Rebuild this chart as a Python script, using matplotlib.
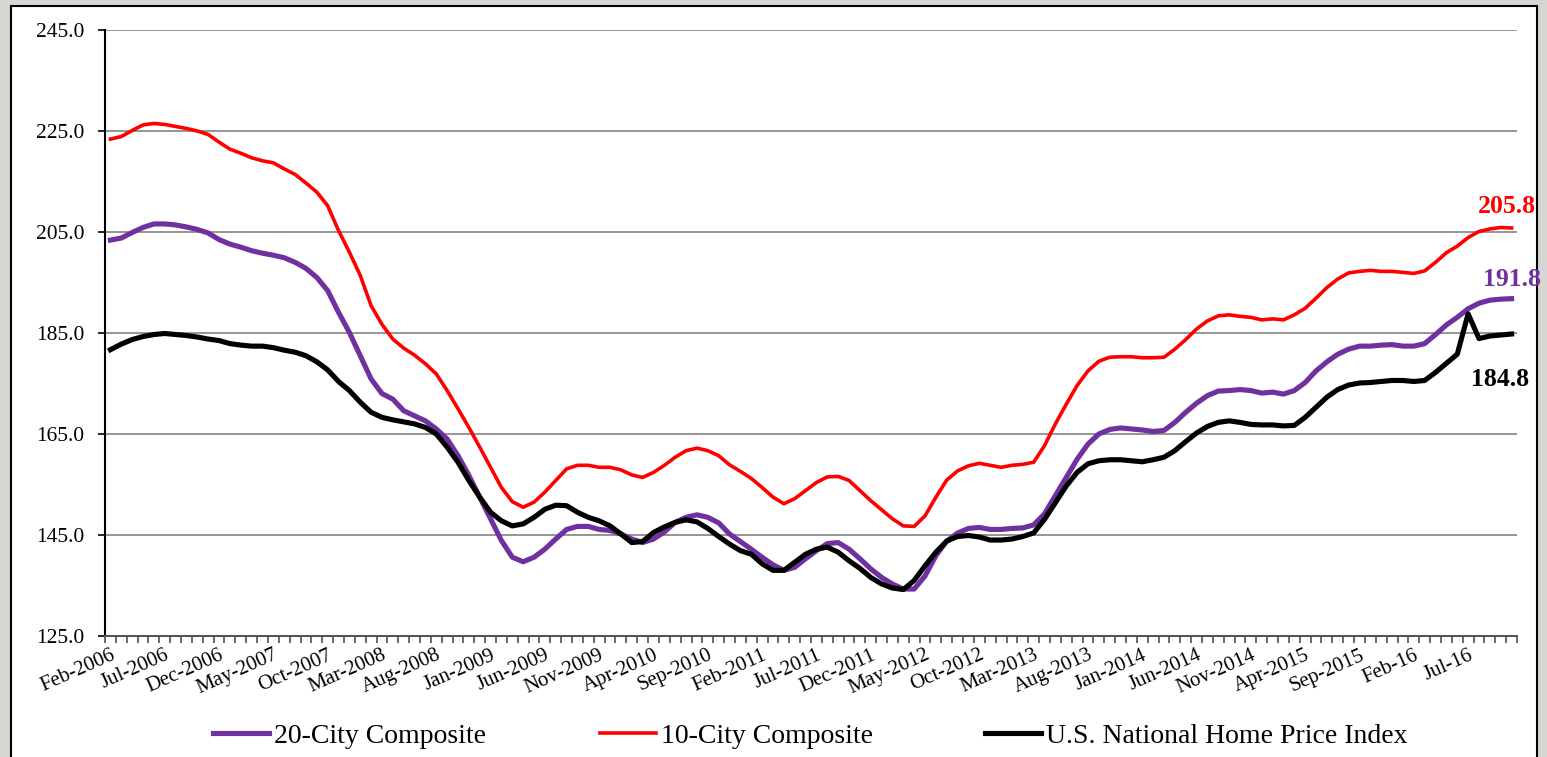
import matplotlib
matplotlib.use("Agg")
import matplotlib.pyplot as plt
from matplotlib.patches import Rectangle
from matplotlib.lines import Line2D
import numpy as np

# ---- data (Feb-2006 .. Nov-2016, monthly) ----
city20 = [203.4, 203.8, 204.9, 205.9, 206.6, 206.6, 206.4, 206.0, 205.5, 204.8,
          203.5, 202.6, 202.0, 201.3, 200.8, 200.4, 199.9, 199.0, 197.8, 196.0,
          193.4, 189.1, 185.1, 180.5, 175.9, 173.0, 171.9, 169.6, 168.6, 167.6,
          166.0, 164.0, 160.7, 156.8, 152.5, 148.2, 143.9, 140.6, 139.7, 140.6,
          142.2, 144.2, 146.1, 146.7, 146.7, 146.1, 145.9, 145.2, 144.2, 143.5,
          144.2, 145.6, 147.5, 148.5, 149.0, 148.5, 147.4, 145.2, 143.7, 142.2,
          140.6, 139.1, 138.0, 138.6, 140.3, 141.9, 143.3, 143.5, 142.2, 140.3,
          138.3, 136.6, 135.3, 134.3, 134.3, 136.9, 140.9, 143.8, 145.4, 146.3,
          146.5, 146.1, 146.1, 146.3, 146.4, 147.0, 149.2, 152.8, 156.4, 160.0,
          163.0, 165.0, 165.9, 166.2, 166.0, 165.8, 165.5, 165.7, 167.3, 169.3,
          171.1, 172.6, 173.5, 173.6, 173.8, 173.6, 173.1, 173.3, 172.9, 173.6,
          175.2, 177.5, 179.3, 180.8, 181.8, 182.4, 182.4, 182.6, 182.7, 182.4,
          182.4, 182.9, 184.7, 186.6, 188.1, 189.8, 190.9, 191.5, 191.7, 191.8]

city10 = [223.4, 223.9, 225.1, 226.2, 226.5, 226.3, 225.9, 225.5, 225.0, 224.3,
          222.8, 221.4, 220.6, 219.7, 219.1, 218.7, 217.5, 216.4, 214.7, 212.9,
          210.2, 205.3, 201.0, 196.4, 190.4, 186.7, 183.8, 182.0, 180.6, 178.9,
          176.9, 173.6, 170.0, 166.3, 162.4, 158.4, 154.4, 151.6, 150.5, 151.5,
          153.5, 155.8, 158.1, 158.8, 158.8, 158.4, 158.4, 157.9, 156.9, 156.4,
          157.4, 158.8, 160.4, 161.7, 162.2, 161.7, 160.7, 158.9, 157.6, 156.2,
          154.4, 152.5, 151.2, 152.2, 153.8, 155.4, 156.5, 156.6, 155.8, 153.8,
          151.8, 150.0, 148.2, 146.8, 146.7, 148.8, 152.5, 155.9, 157.7, 158.7,
          159.2, 158.8, 158.4, 158.8, 159.0, 159.4, 162.7, 167.0, 170.9, 174.6,
          177.5, 179.4, 180.2, 180.3, 180.3, 180.1, 180.1, 180.2, 181.8, 183.7,
          185.8, 187.4, 188.4, 188.6, 188.3, 188.1, 187.6, 187.8, 187.6, 188.6,
          189.9, 191.9, 194.0, 195.7, 196.9, 197.2, 197.4, 197.2, 197.2, 197.0,
          196.8, 197.3, 199.0, 200.9, 202.2, 203.9, 205.1, 205.6, 205.9, 205.8]

national = [181.7, 182.8, 183.7, 184.3, 184.7, 184.9, 184.7, 184.5, 184.2, 183.8,
            183.5, 182.9, 182.6, 182.4, 182.4, 182.1, 181.6, 181.2, 180.5, 179.3,
            177.7, 175.4, 173.6, 171.3, 169.3, 168.3, 167.8, 167.4, 167.0, 166.3,
            165.0, 162.4, 159.4, 155.8, 152.5, 149.5, 147.8, 146.8, 147.2, 148.5,
            150.1, 150.9, 150.8, 149.5, 148.5, 147.8, 146.8, 145.2, 143.5, 143.7,
            145.5, 146.6, 147.5, 148.0, 147.6, 146.3, 144.7, 143.2, 141.9, 141.2,
            139.3, 138.0, 138.0, 139.6, 141.2, 142.2, 142.6, 141.6, 139.9, 138.4,
            136.6, 135.3, 134.5, 134.2, 136.0, 138.9, 141.6, 143.8, 144.7, 144.9,
            144.6, 144.0, 144.0, 144.2, 144.7, 145.4, 148.1, 151.4, 154.7, 157.4,
            159.1, 159.7, 159.9, 159.9, 159.7, 159.5, 159.9, 160.4, 161.7, 163.5,
            165.2, 166.5, 167.3, 167.6, 167.3, 166.9, 166.8, 166.8, 166.6, 166.7,
            168.3, 170.3, 172.3, 173.8, 174.7, 175.1, 175.2, 175.4, 175.6, 175.6,
            175.4, 175.6, 177.2, 179.0, 180.8, 188.8, 183.9, 184.4, 184.6, 184.8]

tick_labels = ["Feb-2006", "Jul-2006", "Dec-2006", "May-2007", "Oct-2007", "Mar-2008",
               "Aug-2008", "Jan-2009", "Jun-2009", "Nov-2009", "Apr-2010", "Sep-2010",
               "Feb-2011", "Jul-2011", "Dec-2011", "May-2012", "Oct-2012", "Mar-2013",
               "Aug-2013", "Jan-2014", "Jun-2014", "Nov-2014", "Apr-2015", "Sep-2015",
               "Feb-16", "Jul-16"]
label_step = 5

series_names = ["20-City Composite", "10-City Composite", "U.S. National Home Price Index"]
end_labels = ["191.8", "205.8", "184.8"]

# ---- styling ----
plt.rcParams['font.family'] = ['Liberation Serif', 'DejaVu Serif']
W, H = 1547, 757
fig = plt.figure(figsize=(W / 100, H / 100), dpi=100, facecolor='#d6d6d2')

# white panel with black border
fig.patches.append(Rectangle((11 / W, -0.05), (1537 - 11) / W, 1.05 - 6 / H,
                             transform=fig.transFigure, facecolor='white',
                             edgecolor='black', linewidth=1.5, zorder=-10))

ax = fig.add_axes([105 / W, 1 - 636 / H, (1517 - 105) / W, (636 - 30) / H])
ax.set_zorder(2)
ax.set_facecolor('white')

n = len(city20)
x = np.arange(n)
purple = '#7030A0'
red = '#FF0000'

ax.plot(x, city20, color=purple, lw=3.7, solid_joinstyle='round', zorder=3)
ax.plot(x, city10, color=red, lw=2.6, solid_joinstyle='round', zorder=4)
ax.plot(x, national, color='black', lw=3.7, solid_joinstyle='round', zorder=5)

ax.set_xlim(-0.5, n - 0.5)
ax.set_ylim(125, 245)
yt = np.arange(125, 246, 20)
ax.set_yticks(yt)
ax.set_yticklabels([f"{v:.1f}" for v in yt], fontsize=15.5)
ax.yaxis.grid(True, color='#8c8c8c', lw=1.3)
ax.set_axisbelow(True)
ax.tick_params(axis='y', direction='out', length=5, width=1.2, pad=10, colors='black')

# x ticks: marks between months, labels every 5 months
ax.set_xticks(np.arange(-0.5, n, 1.0), minor=True)
ax.set_xticks(x[::label_step][:len(tick_labels)])
ax.set_xticklabels(tick_labels, fontsize=15, rotation=24, ha='right', va='top',
                   rotation_mode='anchor')
ax.tick_params(axis='x', which='major', length=0, pad=7)
ax.tick_params(axis='x', which='minor', direction='out', length=5, width=1.1, color='#404040')

for s in ['top', 'right']:
    ax.spines[s].set_visible(False)
ax.spines['left'].set_color('black')
ax.spines['left'].set_linewidth(1.5)
ax.spines['bottom'].set_color('#555555')
ax.spines['bottom'].set_linewidth(1.5)

# end-value labels
lab_kw = dict(textcoords='offset points', fontsize=18.5, fontweight='bold',
              ha='center', va='center', annotation_clip=False)
ax.annotate(end_labels[1], xy=(n - 1, city10[-1]), xytext=(-3, 15.5), color=red, **lab_kw)
ax.annotate(end_labels[0], xy=(n - 1, city20[-1]), xytext=(0, 13.5), color=purple, **lab_kw)
ax.annotate(end_labels[2], xy=(n - 1, national[-1]), xytext=(-8, -32.5), color='black', **lab_kw)

# legend entries placed individually
colors = [purple, red, 'black']
widths = [3.7, 2.6, 3.7]
starts = [213, 600, 985]
for name, c, lw, xs in zip(series_names, colors, widths, starts):
    h = Line2D([], [], color=c, lw=lw)
    fig.legend([h], [name], loc='center left', bbox_to_anchor=(xs / W, 1 - 736 / H),
               frameon=False, fontsize=20, handlelength=2.0, handletextpad=0.2,
               borderpad=0, borderaxespad=0)

fig.savefig('out.png', dpi=100, facecolor=fig.get_facecolor())
